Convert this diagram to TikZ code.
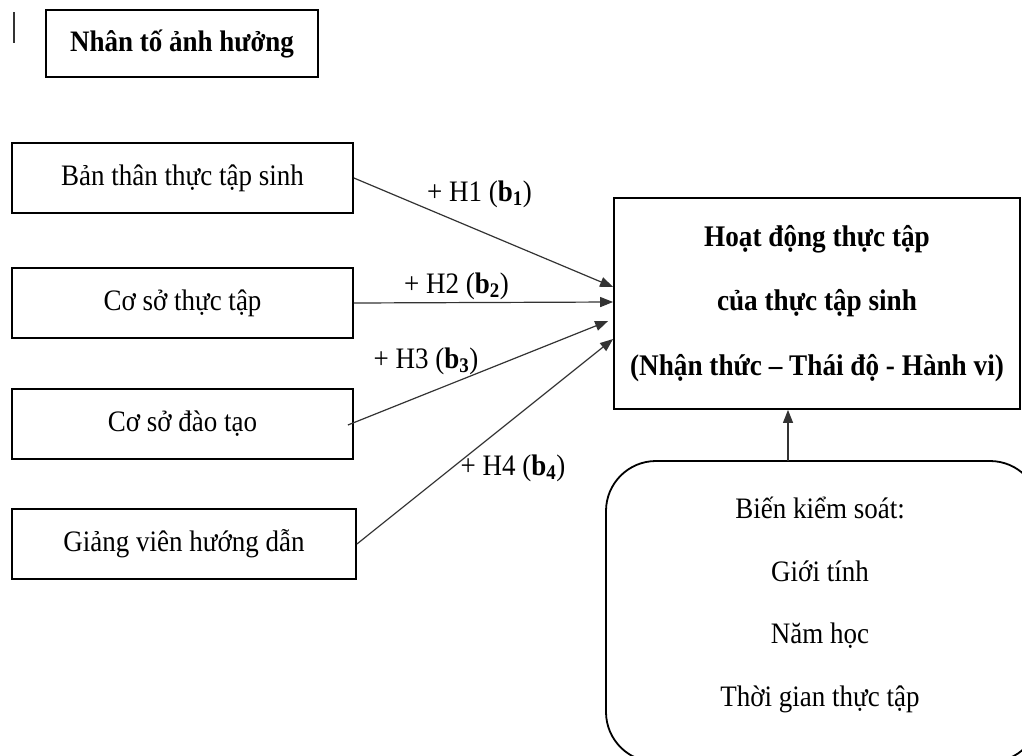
\documentclass[tikz,border=0pt]{standalone}
\usepackage{fontspec}
\usepackage{graphicx}
\setmainfont{Liberation Serif}
\usetikzlibrary{arrows.meta,calc}
\newcommand\vstr[1]{\scalebox{1}[1.1]{#1}}
\begin{document}
\begin{tikzpicture}[x=1pt,y=-1pt,
  every node/.style={font=\fontsize{27}{32}\selectfont},
  sbox/.style={draw=black,line width=1.8pt,minimum width=341pt,minimum height=70pt,inner sep=0pt},
  arr/.style={draw=black!80,line width=1.2pt,-{Triangle[length=13pt,width=10pt]}},
  lbl/.style={inner sep=0pt}]
\path[use as bounding box,clip] (0,0) rectangle (1022,755);
\fill[white] (0,0) rectangle (1022,755);
% cursor mark
\coordinate (m0) at (14,12);
\coordinate (m1) at (14,43);
\draw[line width=1.2pt,black!80] (m0) -- (m1);
% title
\node[draw,line width=1.8pt,minimum width=272pt,minimum height=67pt,inner sep=0pt,font=\fontsize{27}{32}\selectfont\bfseries] (title) at (182,43.5) {\vstr{Nhân tố ảnh hưởng}};
% left boxes
\node[sbox] (b1) at (182.5,178) {\vstr{Bản thân thực tập sinh}};
\node[sbox] (b2) at (182.5,303) {\vstr{Cơ sở thực tập}};
\node[sbox] (b3) at (182.5,424) {\vstr{Cơ sở đào tạo}};
\node[sbox,minimum width=344pt] (b4) at (184,544) {\vstr{Giảng viên hướng dẫn}};
% main box
\node[draw,line width=1.8pt,minimum width=406pt,minimum height=211pt,inner sep=0pt,align=center,
  font=\fontsize{27.2}{64.5}\selectfont\bfseries] (main) at (817,303.5)
  {\vstr{Hoạt động thực tập}\\\vstr{của thực tập sinh}\\\vstr{(Nhận thức -- Thái độ - Hành vi)}};
% control box
\node[draw,line width=1.8pt,rounded corners=50pt,minimum width=434pt,minimum height=301pt,inner sep=0pt] (ctrl) at (823,611.5) {};
\node[align=center,font=\fontsize{27}{62.7}\selectfont] (ctrltext) at (820,605)
  {\vstr{Biến kiểm soát:}\\\vstr{Giới tính}\\\vstr{Năm học}\\\vstr{Thời gian thực tập}};
% arrow endpoints
\coordinate (e1) at ([yshift=16.5pt]main.west);
\coordinate (e2) at ([yshift=1.5pt]main.west);
\coordinate (e3) at ([xshift=-5pt,yshift=-17.5pt]main.west);
\coordinate (e4) at ([yshift=-35.5pt]main.west);
\coordinate (s3) at ([xshift=-6pt,yshift=-1pt]b3.east);
\draw[arr] (b1.east) -- (e1);
\draw[arr] (b2.east) -- (e2);
\draw[arr] (s3) -- (e3);
\draw[arr] (b4.east) -- (e4);
\coordinate (v) at (788,461);
\draw[arr] (v) -- (v |- main.south);
% labels
\node[lbl] (l1) at (479.5,194) {\vstr{+ H1 (\textbf{b\textsubscript{1}})}};
\node[lbl] (l2) at (456.5,286) {\vstr{+ H2 (\textbf{b\textsubscript{2}})}};
\node[lbl] (l3) at (426,361) {\vstr{+ H3 (\textbf{b\textsubscript{3}})}};
\node[lbl] (l4) at (513,468) {\vstr{+ H4 (\textbf{b\textsubscript{4}})}};
\end{tikzpicture}
\end{document}
